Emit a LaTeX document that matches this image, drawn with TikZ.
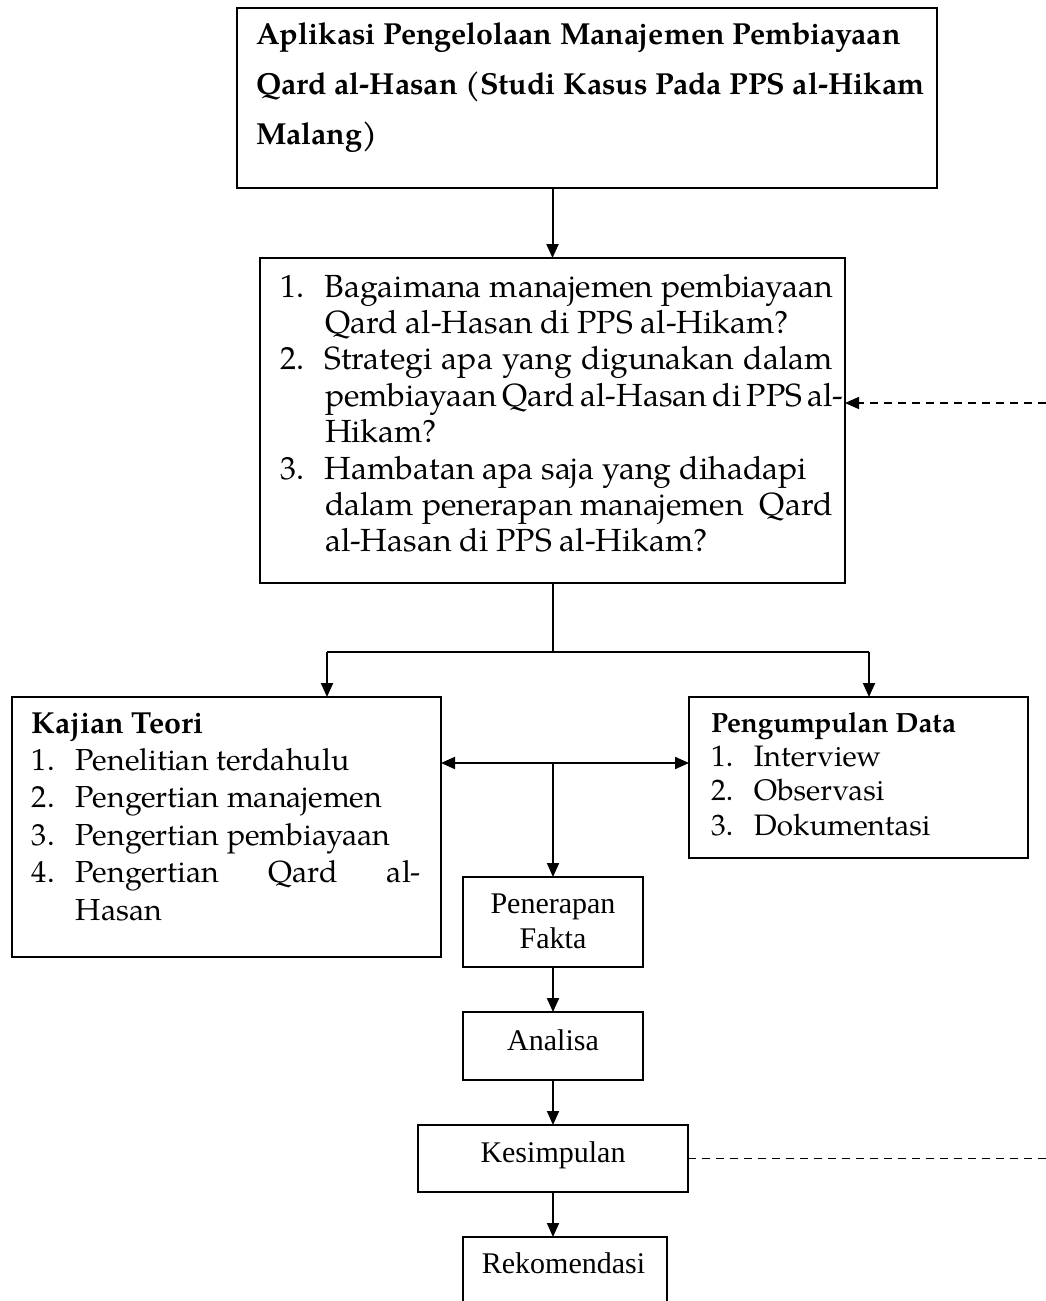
\documentclass[tikz,border=0pt]{standalone}
\usepackage{fontspec}
\setmainfont{TeX Gyre Pagella}
\newfontfamily\timesfont{Liberation Serif}
\usetikzlibrary{arrows.meta}
\begin{document}
\begin{tikzpicture}[x=0.5pt,y=-0.5pt,
  box/.style={draw,line width=0.9pt,inner sep=0pt,outer sep=0pt},
  txtA/.style={inner sep=0pt,outer sep=0pt,anchor=base west,font=\fontsize{16}{18}\selectfont},
  txtB/.style={inner sep=0pt,outer sep=0pt,anchor=base west,font=\fontsize{15.2}{18}\selectfont},
  txtC/.style={inner sep=0pt,outer sep=0pt,anchor=base west,font=\fontsize{14.8}{18}\selectfont},
  ttl/.style={inner sep=0pt,outer sep=0pt,anchor=base west,font=\fontsize{15.2}{18}\selectfont\bfseries},
  hdB/.style={inner sep=0pt,outer sep=0pt,anchor=base west,font=\fontsize{15.2}{18}\selectfont\bfseries},
  hdC/.style={inner sep=0pt,outer sep=0pt,anchor=base west,font=\fontsize{13.9}{18}\selectfont\bfseries},
  tms/.style={inner sep=0pt,outer sep=0pt,anchor=base,font=\fontsize{15}{17}\timesfont},
  conn/.style={line width=1pt},
  arr/.style={conn,-{Triangle[length=7pt,width=6pt]}},
  dsh/.style={line width=0.8pt,dash pattern=on 4pt off 3pt}
]
\useasboundingbox (0,0) rectangle (1045,1301);
\fill[white] (0,0) rectangle (1045,1301);

% boxes
\node[box,minimum width=350pt,minimum height=90pt] (title) at (587,98) {};
\node[box,minimum width=292.5pt,minimum height=162.5pt] (b2) at (552.5,420.5) {};
\node[box,minimum width=214.5pt,minimum height=130pt] (kaj) at (226.5,827) {};
\node[box,minimum width=169.5pt,minimum height=80.5pt] (peng) at (858.5,777.5) {};
\node[box,minimum width=90pt,minimum height=45pt] (pen) at (553,922) {};
\node[box,minimum width=90pt,minimum height=34pt] (ana) at (553,1046) {};
\node[box,minimum width=135pt,minimum height=33.5pt] (kes) at (553,1158.5) {};
\node[box,minimum width=102pt,minimum height=41.5pt] (rek) at (565,1278.5) {};

% title text
\node[ttl] (t1) at (256,44) {Aplikasi Pengelolaan Manajemen Pembiayaan};
\node[ttl] (t2) at (256,94) {Qard al-Hasan (Studi Kasus Pada PPS al-Hikam};
\node[ttl] (t3) at (256,144) {Malang)};

% box 2 text
\node[txtA] (q1) at (280,297) {\makebox[22.5pt][l]{1.}Bagaimana manajemen pembiayaan};
\node[txtA] (q2) at (280,333.4) {\hspace*{22.5pt}Qard al-Hasan di PPS al-Hikam?};
\node[txtA] (q3) at (280,369.8) {\makebox[22.5pt][l]{2.}\makebox[254pt][s]{Strategi apa yang digunakan dalam}};
\node[txtA] (q4) at (280,406.2) {\hspace*{22.5pt}\makebox[254pt][s]{pembiayaan Qard al-Hasan di PPS al-}};
\node[txtA] (q5) at (280,442.6) {\hspace*{22.5pt}Hikam?};
\node[txtA] (q6) at (280,479) {\makebox[22.5pt][l]{3.}Hambatan apa saja yang dihadapi};
\node[txtA] (q7) at (280,515.4) {\hspace*{22.5pt}dalam penerapan manajemen\ \ Qard};
\node[txtA] (q8) at (280,551.8) {\hspace*{22.5pt}al-Hasan di PPS al-Hikam?};

% Kajian Teori text
\node[hdB] (k0) at (32,733) {Kajian Teori};
\node[txtB] (k1) at (32,770) {\makebox[22pt][l]{1.}Penelitian terdahulu};
\node[txtB] (k2) at (32,807.5) {\makebox[22pt][l]{2.}Pengertian manajemen};
\node[txtB] (k3) at (32,845) {\makebox[22pt][l]{3.}Pengertian pembiayaan};
\node[txtB] (k4) at (32,882.5) {\makebox[22pt][l]{4.}\makebox[172.5pt][s]{Pengertian Qard al-}};
\node[txtB] (k5) at (32,920) {\hspace*{22pt}Hasan};

% Pengumpulan Data text
\node[hdC] (p0) at (711,732) {Pengumpulan Data};
\node[txtC] (p1) at (711,766) {\makebox[21.5pt][l]{1.}Interview};
\node[txtC] (p2) at (711,800.5) {\makebox[21.5pt][l]{2.}Observasi};
\node[txtC] (p3) at (711,835) {\makebox[21.5pt][l]{3.}Dokumentasi};

% small boxes text
\node[tms] (pt1) at (553,913) {Penerapan};
\node[tms] (pt2) at (553,948) {Fakta};
\node[tms] (at) at (553,1050) {Analisa};
\node[tms] (kt) at (553,1162) {Kesimpulan};
\node[tms] (rt) at (563.5,1273) {Rekomendasi};

% connectors
\draw[arr] (title.south -| b2.north) -- (b2.north);
\coordinate (split) at (552.5,652);
\coordinate (ka) at (327,652);
\coordinate (pa) at (869,652);
\draw[conn] (b2.south) -- (split);
\draw[conn] (ka) -- (pa);
\draw[arr] (ka) -- (ka |- kaj.north);
\draw[arr] (pa) -- (pa |- peng.north);
\coordinate (mid) at (553,763);
\draw[arr] (mid) -- (mid -| kaj.east);
\draw[arr] (mid) -- (mid -| peng.west);
\draw[arr] (mid) -- (pen.north);
\draw[arr] (pen.south) -- (ana.north);
\draw[arr] (ana.south) -- (kes.north);
\draw[arr] (kes.south) -- (kes.south |- rek.north);
\coordinate (rtop) at (1060,403);
\coordinate (rbot) at (1060,1158.5);
\draw[dsh,-{Triangle[length=7pt,width=6pt]}] (rtop) -- (rtop -| b2.east);
\draw[dsh] (kes.east) -- (rbot);
\end{tikzpicture}
\end{document}
